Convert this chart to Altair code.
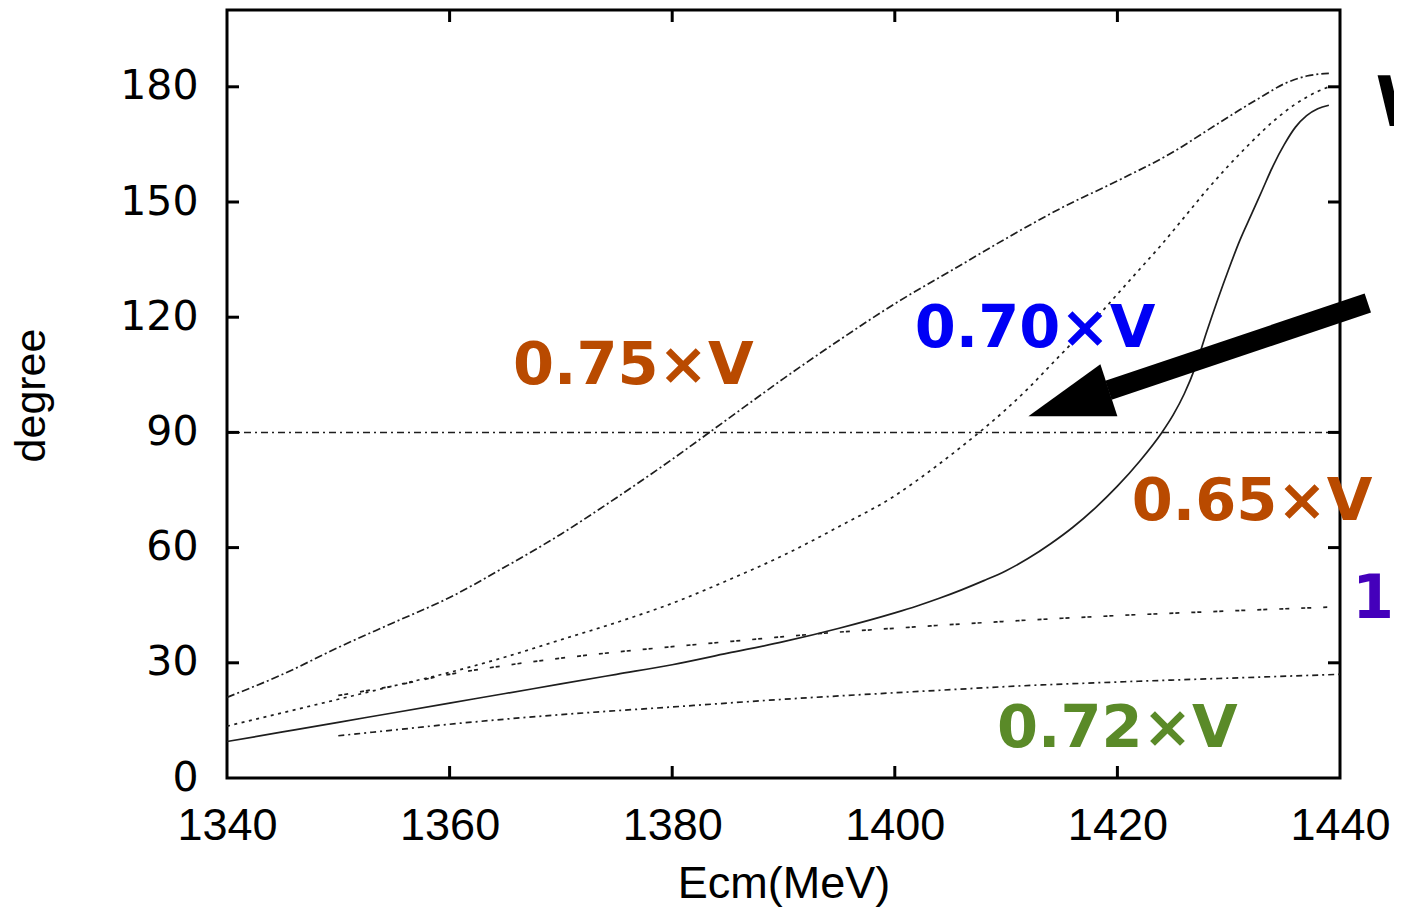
import altair as alt
import pandas as pd

# ---------------- data (Ecm in MeV, phase in degree) ----------------
x_075 = [1340, 1345, 1350, 1355, 1360, 1365, 1370, 1375, 1380, 1385, 1390, 1395, 1400,
         1405, 1410, 1415, 1420, 1425, 1428, 1431, 1433, 1435, 1437, 1439]
y_075 = [21, 27, 34, 40.5, 47, 55, 63.5, 73, 83, 93.5, 104, 114, 123.5,
         132, 140.5, 148.5, 155.5, 163, 168.5, 174, 177.5, 180.8, 182.8, 183.5]

x_070 = [1340, 1345, 1350, 1355, 1360, 1365, 1370, 1375, 1380, 1385, 1390, 1395, 1400,
         1402, 1404, 1406, 1408, 1410, 1412, 1414, 1416, 1418, 1420, 1422, 1424, 1426,
         1428, 1430, 1432, 1434, 1436, 1438, 1439]
y_070 = [13.5, 17, 20.5, 24, 27.5, 31.5, 36, 40.5, 45.5, 51.5, 58, 65.5, 73.5,
         77.5, 81.8, 86.3, 91, 96, 101.5, 107.5, 113.5, 119.5, 126, 132.5, 139, 146,
         153, 159.5, 165.5, 171, 175.5, 178.8, 180]

x_065 = [1340, 1345, 1350, 1355, 1360, 1365, 1370, 1375, 1380, 1385, 1390, 1395, 1400,
         1402, 1404, 1406, 1408, 1410, 1412, 1414, 1416, 1418, 1420, 1422, 1424, 1425,
         1426, 1427, 1428, 1429, 1430, 1431, 1432, 1433, 1434, 1435, 1436, 1437, 1438, 1439]
y_065 = [9.5, 12, 14.5, 17, 19.5, 22, 24.5, 27, 29.5, 32.5, 35.5, 39, 43,
         44.8, 46.8, 49, 51.4, 54, 57.2, 61, 65.3, 70.3, 76, 82.5, 90, 94.5,
         100, 107, 116, 124.5, 132.5, 140, 146.5, 153, 159.5, 165, 169.5, 172.5, 174.3, 175.2]

x_1v = [1350, 1355, 1360, 1365, 1370, 1375, 1380, 1385, 1390, 1395, 1400, 1410, 1420, 1430, 1439]
y_1v = [21.5, 24, 27, 29.3, 31.2, 32.8, 34.2, 35.5, 36.8, 38, 39, 40.8, 42.3, 43.5, 44.5]

x_072 = [1350, 1355, 1360, 1370, 1380, 1390, 1400, 1405, 1410, 1420, 1430, 1440]
y_072 = [11, 12.5, 14, 16.5, 18.5, 20.5, 22.2, 23, 23.8, 25, 26, 27]

x_ref90 = [1340, 1440]
y_ref90 = [90, 90]

x_ticks = [1340, 1360, 1380, 1400, 1420, 1440]
y_ticks = [0, 30, 60, 90, 120, 150, 180]

# labels (text, x, y, colour)
lab_text = ["0.75×V", "0.70×V", "0.65×V", "0.72×V"]
lab_x = [1376.5, 1412.6, 1432.1, 1420.0]
lab_y = [107.3, 116.9, 71.9, 12.8]
lab_col = ["#B94A00", "#0000F5", "#B94A00", "#5A8A28"]

# texts cut by the right edge of the picture
edge_text = ["W", "1."]
edge_x = [1443.2, 1441.1]
edge_y = [175.3, 46.4]
edge_col = ["#000000", "#4400BB"]
edge_fs = [70, 60]

arrow_x = [1442.5, 1419.2]
arrow_y = [123.7, 101.0]
head_x = [1416.0]
head_y = [101.0]

W, H = 1113, 768
TICK = 12

# ---------------- encodings ----------------
xscale = alt.Scale(domain=[1340, 1440], nice=False, zero=False)
yscale = alt.Scale(domain=[0, 200], nice=False, zero=False)

xaxis = alt.Axis(values=x_ticks, format="d", ticks=False, tickSize=0, domain=False, grid=False,
                 labelFont="Liberation Sans", labelFontSize=45, labelColor="black",
                 labelPadding=25, labelFlush=False, labelOverlap=False,
                 title="Ecm(MeV)", titleFont="Liberation Sans", titleFontSize=45,
                 titleFontWeight="normal", titleColor="black",
                 titleX=W / 2, titleY=119, titleBaseline="alphabetic", titleAlign="center")
yaxis = alt.Axis(values=y_ticks, format="d", ticks=False, tickSize=0, domain=False, grid=False,
                 labelFont="DejaVu Sans", labelFontSize=41, labelColor="black",
                 labelPadding=29, labelFlush=False, labelOverlap=False,
                 title="degree", titleFont="Liberation Sans", titleFontSize=43,
                 titleFontWeight="normal", titleColor="black",
                 titleX=-183, titleY=385, titleAngle=270, titleBaseline="alphabetic",
                 titleAlign="center")


def X(field="x"):
    return alt.X(f"{field}:Q", scale=xscale, axis=xaxis)


def Y(field="y"):
    return alt.Y(f"{field}:Q", scale=yscale, axis=yaxis)


def curve(xs, ys, dash, width=1.7):
    df = pd.DataFrame({"x": xs, "y": ys})
    style = dict(color="#1e1e1e", strokeWidth=width, interpolate="monotone")
    if dash:
        style["strokeDash"] = dash
    return alt.Chart(df).mark_line(**style).encode(x=X(), y=Y())


layers = [
    curve(x_ref90, y_ref90, [7, 4, 2, 4], 1.5),
    curve(x_075, y_075, [8, 3, 2, 3]),
    curve(x_070, y_070, [3, 4.5]),
    curve(x_065, y_065, None),
    curve(x_1v, y_1v, [4, 2, 4, 12]),
    curve(x_072, y_072, [6, 4, 2, 4]),
]

# inward ticks on all four sides
xt = pd.DataFrame({"x": x_ticks[1:-1]})
yt = pd.DataFrame({"y": y_ticks[1:]})
tick_style = dict(color="black", strokeWidth=3)
layers += [
    alt.Chart(xt).mark_rule(**tick_style).encode(x=X(), y=alt.value(H), y2=alt.value(H - TICK)),
    alt.Chart(xt).mark_rule(**tick_style).encode(x=X(), y=alt.value(0), y2=alt.value(TICK)),
    alt.Chart(yt).mark_rule(**tick_style).encode(y=Y(), x=alt.value(0), x2=alt.value(TICK)),
    alt.Chart(yt).mark_rule(**tick_style).encode(y=Y(), x=alt.value(W), x2=alt.value(W - TICK)),
]

# arrow
layers.append(
    alt.Chart(pd.DataFrame({"x": arrow_x, "y": arrow_y})).mark_line(
        color="black", strokeWidth=20, strokeCap="butt").encode(x=X(), y=Y())
)
layers.append(
    alt.Chart(pd.DataFrame({"x": head_x, "y": head_y})).mark_point(
        shape="M-0.89,0.52L0.55,-0.52L0.89,0.52Z", size=10000, filled=True,
        color="black", opacity=1, strokeWidth=0).encode(x=X(), y=Y())
)

# coloured labels
lab_df = pd.DataFrame({"x": lab_x, "y": lab_y, "t": lab_text, "c": lab_col})
layers.append(
    alt.Chart(lab_df).mark_text(font="DejaVu Sans", fontWeight="bold", fontSize=59,
                                align="center", baseline="middle").encode(
        x=X(), y=Y(), text="t:N", color=alt.Color("c:N", scale=None))
)
edge_df = pd.DataFrame({"x": edge_x, "y": edge_y, "t": edge_text, "c": edge_col, "s": edge_fs})
layers.append(
    alt.Chart(edge_df).mark_text(font="DejaVu Sans", fontWeight="bold",
                                 align="left", baseline="middle").encode(
        x=X(), y=Y(), text="t:N", color=alt.Color("c:N", scale=None),
        size=alt.Size("s:Q", scale=None))
)

chart = alt.layer(*layers).properties(
    width=W, height=H,
    autosize=alt.AutoSizeParams(type="none"),
    padding={"left": 219, "top": 2, "right": 54, "bottom": 129},
    background="white",
).configure_view(stroke="black", strokeWidth=3)

chart.save("out.html", embed_options={"renderer": "svg", "actions": False})
